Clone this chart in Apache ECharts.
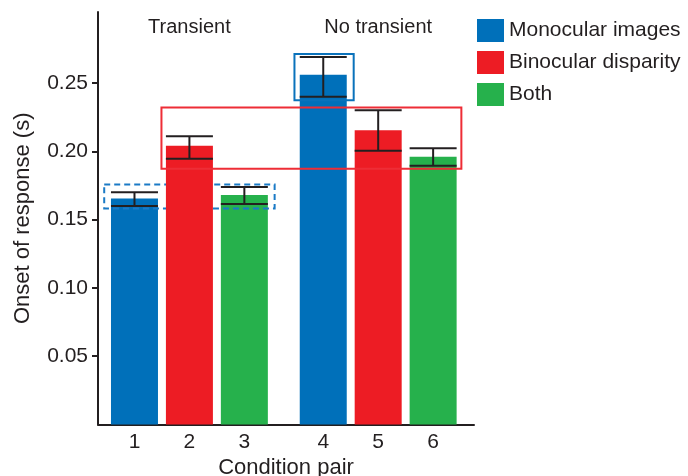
<!DOCTYPE html>
<html>
<head>
<meta charset="utf-8">
<title>Onset of response by condition pair</title>
<script src="https://cdn.jsdelivr.net/npm/echarts@6/dist/echarts.min.js"></script>
<style>
  html, body { margin: 0; padding: 0; background: #ffffff; }
  #chart { width: 688px; height: 476px; }
</style>
</head>
<body>
<div id="chart"></div>
<script>
// Condition pairs, split into two groups of three bars
const categories = ['1', '2', '3', '4', '5', '6'];
const groupNames = ['Transient', 'No transient'];
const seriesNames = ['Monocular images', 'Binocular disparity', 'Both'];

// Onset of response (s), one value per group
const monocular = [0.1655, 0.256];
const binocular = [0.204, 0.2155];
const both = [0.168, 0.196];

// Error bar extents [low, high] per group
const monocularErr = [[0.160, 0.170], [0.240, 0.269]];
const binocularErr = [[0.1945, 0.211], [0.2005, 0.230]];
const bothErr = [[0.1615, 0.1738], [0.1895, 0.2023]];

// Highlight boxes: first/last condition pair covered, value range
const boxDashed = { from: 1, to: 3, range: [0.1582, 0.1757] };
const boxRed = { from: 2, to: 6, range: [0.1872, 0.2321] };
const boxBlue = { from: 4, to: 4, range: [0.2374, 0.2713] };

const yTicks = [0.05, 0.10, 0.15, 0.20, 0.25];

// ---- layout helpers ----
const GROUP_GAP = 0.436;          // extra space between the two groups, in slot units
function slotX(idx) {             // idx: 0..5
  const g = Math.floor(idx / 3);
  return idx + 1 + g * GROUP_GAP;
}
const xPositions = categories.map((c, i) => slotX(i));

const colors = ['#0070ba', '#ed1c24', '#26b14c'];
const values = [monocular, binocular, both];
const errs = [monocularErr, binocularErr, bothErr];
const FONT = '"Liberation Sans", Arial, Helvetica, sans-serif';
const TEXT = '#231f20';
const BAR_W = 47;

function barData(s) {
  return values[s].map((v, g) => [slotX(g * 3 + s), v]);
}

const errData = [];
for (let s = 0; s < 3; s++) {
  for (let g = 0; g < 2; g++) {
    errData.push([slotX(g * 3 + s), errs[s][g][0], errs[s][g][1]]);
  }
}

function boxSeries(name, box, padL, padR, color, dashed, z) {
  return {
    type: 'custom',
    name: name,
    z: z,
    silent: true,
    data: [[slotX(box.from - 1) - padL, slotX(box.to - 1) + padR, box.range[0], box.range[1]]],
    renderItem: function (params, api) {
      const p1 = api.coord([api.value(0), api.value(3)]);
      const p2 = api.coord([api.value(1), api.value(2)]);
      return {
        type: 'rect',
        shape: { x: p1[0], y: p1[1], width: p2[0] - p1[0], height: p2[1] - p1[1] },
        style: {
          fill: null,
          stroke: color,
          lineWidth: 2,
          lineDash: dashed ? [6, 4] : null
        }
      };
    }
  };
}

const barSeries = seriesNames.map((name, s) => ({
  type: 'bar',
  name: name,
  data: barData(s),
  barWidth: BAR_W,
  barGap: '-100%',
  z: s === 1 ? 4 : 2,
  itemStyle: { color: colors[s] },
  emphasis: { disabled: true }
}));

const chart = echarts.init(document.getElementById('chart'), null, { renderer: 'canvas' });

chart.setOption({
  animation: false,
  backgroundColor: '#ffffff',
  textStyle: { fontFamily: FONT, color: TEXT },
  grid: { left: 98, top: 12, width: 376, height: 412.5, containLabel: false, outerBoundsMode: 'none' },
  legend: {
    orient: 'vertical',
    left: 477,
    top: 19,
    padding: 0,
    itemWidth: 27,
    itemHeight: 23,
    itemGap: 9,
    icon: 'rect',
    data: seriesNames,
    textStyle: { fontFamily: FONT, fontSize: 21, color: TEXT },
    selectedMode: false
  },
  xAxis: {
    type: 'value',
    min: 0.336,
    max: 7.18,
    name: 'Condition pair',
    nameLocation: 'middle',
    nameGap: 31,
    nameTextStyle: { fontFamily: FONT, fontSize: 22, color: TEXT },
    axisLine: { show: true, lineStyle: { color: '#231f20', width: 2 } },
    axisTick: { show: false },
    splitLine: { show: false },
    axisLabel: {
      customValues: xPositions,
      formatter: function (v) {
        let best = 0;
        xPositions.forEach((p, i) => { if (Math.abs(p - v) < Math.abs(xPositions[best] - v)) best = i; });
        return categories[best];
      },
      fontFamily: FONT,
      fontSize: 21,
      color: TEXT,
      margin: 7
    }
  },
  yAxis: {
    type: 'value',
    min: 0,
    max: 0.302,
    name: 'Onset of response (s)',
    nameLocation: 'middle',
    nameGap: 64,
    nameTextStyle: { fontFamily: FONT, fontSize: 22, color: TEXT },
    axisLine: { show: true, lineStyle: { color: '#231f20', width: 2 } },
    axisTick: { show: true, length: 6, customValues: yTicks, lineStyle: { color: '#231f20', width: 2 } },
    splitLine: { show: false },
    axisLabel: {
      customValues: yTicks,
      formatter: v => v.toFixed(2),
      fontFamily: FONT,
      fontSize: 21,
      color: TEXT,
      margin: 10
    }
  },
  series: barSeries.concat([
    boxSeries('dashedBox', boxDashed, 0.551, 0.551, '#1a7ac6', true, 3),
    boxSeries('redBox', boxRed, 0.509, 0.514, '#ee2d36', false, 5),
    boxSeries('blueBox', boxBlue, 0.524, 0.554, '#0a72bb', false, 5),
    {
      type: 'custom',
      name: 'errors',
      z: 6,
      silent: true,
      data: errData,
      renderItem: function (params, api) {
        const x = api.value(0);
        const lo = api.coord([x, api.value(1)]);
        const hi = api.coord([x, api.value(2)]);
        const hw = BAR_W / 2;
        const style = { stroke: '#231f20', lineWidth: 2 };
        return {
          type: 'group',
          children: [
            { type: 'line', shape: { x1: lo[0], y1: lo[1], x2: hi[0], y2: hi[1] }, style: style },
            { type: 'line', shape: { x1: lo[0] - hw, y1: lo[1], x2: lo[0] + hw, y2: lo[1] }, style: style },
            { type: 'line', shape: { x1: hi[0] - hw, y1: hi[1], x2: hi[0] + hw, y2: hi[1] }, style: style }
          ]
        };
      }
    },
    {
      type: 'custom',
      name: 'groups',
      z: 6,
      silent: true,
      data: groupNames.map((n, g) => [slotX(g * 3 + 1), 0.291]),
      renderItem: function (params, api) {
        const p = api.coord([api.value(0), api.value(1)]);
        return {
          type: 'text',
          x: p[0],
          y: p[1],
          style: {
            text: groupNames[params.dataIndex],
            fontFamily: FONT,
            fontSize: 20,
            fill: TEXT,
            align: 'center',
            verticalAlign: 'middle'
          }
        };
      }
    }
  ])
});
</script>
</body>
</html>
